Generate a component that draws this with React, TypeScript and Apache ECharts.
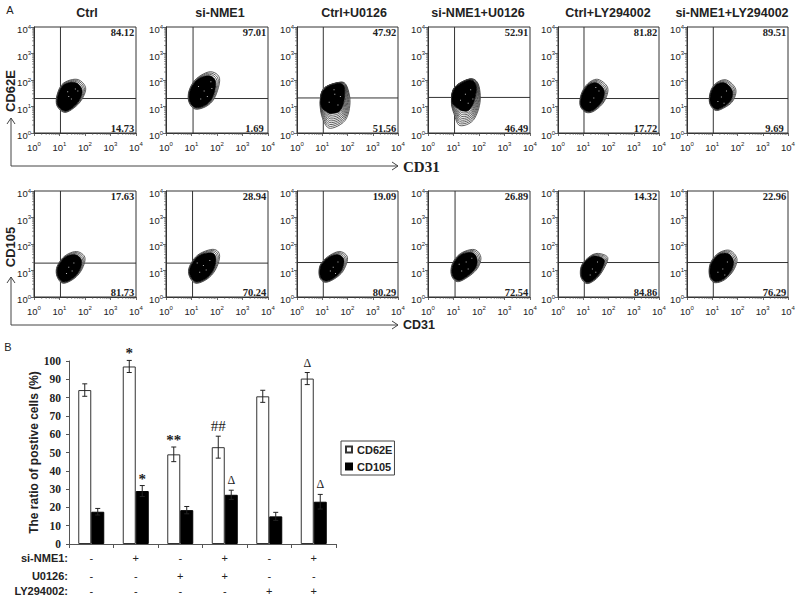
import React, { useEffect, useRef } from "react";
import * as echarts from "echarts";

const SANS = '"Liberation Sans", Arial, sans-serif';
const SERIF = '"Liberation Serif", "Times New Roman", serif';

// ---------- Panel A data ----------
const panelTitles = ["Ctrl", "si-NME1", "Ctrl+U0126", "si-NME1+U0126", "Ctrl+LY294002", "si-NME1+LY294002"];
const upperRow1 = ["84.12", "97.01", "47.92", "52.91", "81.82", "89.51"];
const lowerRow1 = ["14.73", "1.69", "51.56", "46.49", "17.72", "9.69"];
const upperRow2 = ["17.63", "28.94", "19.09", "26.89", "14.32", "22.96"];
const lowerRow2 = ["81.73", "70.24", "80.29", "72.54", "84.86", "76.29"];
const gatesRow1 = [[10.9, 20], [11.5, 20], [11, 21], [11, 22], [10.7, 20], [11, 20]];
const gatesRow2 = [[10.9, 19], [11, 19], [11, 20], [11.5, 20], [11, 20], [11, 20]];

// Outer contour of each population: top, upper right, right, lower right, bottom, lower left, left, upper left
const outlinesRow1 = [
  [[49, 106], [105, 53], [79, 20], [40, 9.4], [16, 6], [8, 10.6], [8, 27], [14, 75]],
  [[55, 205], [126, 115], [86, 24], [41, 10.6], [14, 8], [7.8, 15.5], [8.2, 42], [16, 115]],
  [[44, 81], [89, 65], [126, 14.5], [81, 3], [21, 1.5], [11, 3], [8.3, 11], [11, 46]],
  [[44, 110], [93, 71], [110, 14.5], [59, 3], [18, 1.9], [11, 4.6], [8.3, 14.5], [11, 53]],
  [[38, 106], [93, 51], [69, 16], [28, 6.9], [13, 6], [7.6, 10.6], [8.3, 29], [15, 72]],
  [[37, 100], [85, 45], [65, 16], [28, 8.7], [13, 7.2], [7.8, 14], [8.7, 39], [15, 79]],
];
const outlinesRow2 = [
  [[46, 52], [98, 32], [79, 12], [40, 5.2], [14, 3.3], [8, 6], [8, 14], [16, 35]],
  [[69, 63], [126, 39], [93, 12], [44, 5], [15, 3.3], [8.3, 6], [8.3, 14], [18, 39]],
  [[50, 52], [100, 31], [69, 10], [32, 5], [13, 3.6], [7.8, 5.8], [8.3, 16], [18, 35]],
  [[65, 62], [118, 32], [87, 12], [35, 5.5], [14, 3.8], [8.3, 6.7], [9, 18], [19, 44]],
  [[40, 44], [93, 31], [66, 12], [34, 5], [14, 3.2], [8, 5.8], [8.7, 16], [19, 35]],
  [[48, 58], [95, 28], [69, 10], [30, 4.4], [12, 3.5], [7.8, 6.2], [8.3, 18], [17, 44]],
];
// How deep the black core starts inside the outer contour, vertex by vertex
const ringDepthTight = [0.2, 0.24, 0.16, 0.1, 0.08, 0.06, 0.08, 0.1];
const ringDepthTail = [0.05, 0.15, 0.42, 0.55, 0.62, 0.45, 0.05, 0.05];
const ringDepthsRow1 = [ringDepthTight, ringDepthTight, ringDepthTail, ringDepthTail, ringDepthTight, ringDepthTight];
const ringCountsRow1 = [3, 3, 8, 8, 3, 3];
const ringCountRow2 = 3;

const specksRow1 = [
  [[22, 25], [40, 48], [28, 20], [50, 40], [20, 38]],
  [[30, 40], [55, 90], [22, 20], [40, 25], [60, 50], [18, 60]],
  [[30, 30], [50, 25], [18, 15], [40, 12], [28, 45]],
  [[28, 30], [45, 45], [18, 18], [36, 14], [55, 20]],
  [[25, 22], [40, 40], [18, 15], [30, 55]],
  [[22, 24], [35, 40], [16, 16], [28, 14]],
];
const specksRow2 = [
  [[22, 14], [35, 20], [18, 8], [30, 10]],
  [[28, 16], [50, 25], [20, 9], [36, 11], [16, 20]],
  [[26, 14], [20, 10], [40, 22], [32, 8]],
  [[30, 22], [50, 30], [20, 10], [36, 12], [16, 18]],
  [[22, 12], [35, 22], [18, 7], [30, 9]],
  [[25, 12], [38, 22], [16, 9], [30, 7]],
];
const decadeExponents = ["0", "1", "2", "3", "4"];
const minorTickValues = [2, 3, 4, 5, 6, 7, 8, 9, 20, 30, 40, 50, 60, 70, 80, 90, 200, 300, 400, 500, 600, 700, 800, 900, 2000, 3000, 4000, 5000, 6000, 7000, 8000, 9000];

// ---------- Panel B data ----------
const siNme1Signs = ["-", "+", "-", "+", "-", "+"];
const u0126Signs = ["-", "-", "+", "+", "-", "-"];
const lySigns = ["-", "-", "-", "-", "+", "+"];
const cd62eValues = [84.12, 97.01, 49, 52.91, 80.7, 90.4];
const cd62eErrors = [3.4, 3.3, 4, 6, 3.3, 3.3];
const cd62eMarks = ["", "*", "**", "##", "", "Δ"];
const cd105Values = [17.63, 28.94, 18.5, 26.89, 15.1, 23.1];
const cd105Errors = [1.8, 3, 2, 2.5, 2.2, 4];
const cd105Marks = ["", "*", "", "Δ", "", "Δ"];
const percentTicks = { min: 0, max: 100, interval: 10 };

// ---------- Layout ----------
const panelLefts = [34, 166, 297, 428, 558, 687];
const panelRights = [136, 268, 398, 530, 659, 788];
const rowTops = [27, 191];
const rowBottoms = [133, 297];
const titleCentres = [87, 220, 354, 478, 608, 732];

// Closed Catmull-Rom curve through the contour vertices (drawing helper only)
function smoothLoop(pts: number[][], steps = 6): number[][] {
  const out: number[][] = [];
  const n = pts.length;
  for (let i = 0; i < n; i++) {
    const p0 = pts[(i + n - 1) % n], p1 = pts[i], p2 = pts[(i + 1) % n], p3 = pts[(i + 2) % n];
    for (let s = 0; s < steps; s++) {
      const t = s / steps, t2 = t * t, t3 = t2 * t;
      const f = (a: number, b: number, c: number, d: number) =>
        0.5 * (2 * b + (c - a) * t + (2 * a - 5 * b + 4 * c - d) * t2 + (3 * b - a - 3 * c + d) * t3);
      out.push([f(p0[0], p1[0], p2[0], p3[0]), f(p0[1], p1[1], p2[1], p3[1])]);
    }
  }
  return out;
}

function panelRender(upper: string, lower: string, gate: number[], outline: number[][], depth: number[], rings: number, specks: number[][]) {
  return (params: any, api: any) => {
    const cs = params.coordSys;
    const right = cs.x + cs.width;
    const bottom = cs.y + cs.height;
    const kids: any[] = [];
    const stroke = { stroke: "#333", lineWidth: 1, fill: "none" };
    for (const v of minorTickValues) {
      const [px] = api.coord([v, 1]);
      const [, py] = api.coord([1, v]);
      kids.push({ type: "line", shape: { x1: px, y1: bottom, x2: px, y2: bottom + 2 }, style: { stroke: "#555", lineWidth: 0.6 } });
      kids.push({ type: "line", shape: { x1: cs.x, y1: py, x2: cs.x - 2, y2: py }, style: { stroke: "#555", lineWidth: 0.6 } });
    }
    const gx = api.coord([gate[0], 1])[0];
    const gy = api.coord([1, gate[1]])[1];
    kids.push({ type: "line", shape: { x1: gx, y1: cs.y, x2: gx, y2: bottom }, style: stroke });
    kids.push({ type: "line", shape: { x1: cs.x, y1: gy, x2: right, y2: gy }, style: stroke });

    const outer: number[][] = outline.map((p) => api.coord(p));
    const cx = outer.reduce((s, p) => s + p[0], 0) / outer.length;
    const cy = outer.reduce((s, p) => s + p[1], 0) / outer.length;
    const core = outer.map((p, i) => [p[0] + (cx - p[0]) * depth[i], p[1] + (cy - p[1]) * depth[i]]);
    for (let r = 0; r < rings; r++) {
      const t = r / rings;
      const pts = outer.map((p, i) => [p[0] + (core[i][0] - p[0]) * t, p[1] + (core[i][1] - p[1]) * t]);
      kids.push({
        type: "polygon",
        shape: { points: smoothLoop(pts) },
        style: { fill: "#fff", stroke: "#333", lineWidth: 0.8 },
      });
    }
    kids.push({ type: "polygon", shape: { points: smoothLoop(core) }, style: { fill: "#000", stroke: "#000", lineWidth: 0.8 } });
    for (const s of specks) {
      const p = api.coord(s);
      kids.push({ type: "rect", shape: { x: p[0], y: p[1], width: 1, height: 1 }, style: { fill: "#bbb" } });
    }
    const textStyle = { font: `bold 10.5px ${SERIF}`, fill: "#222", textAlign: "center", align: "center", textVerticalAlign: "middle", verticalAlign: "middle" };
    kids.push({ type: "text", style: { ...textStyle, text: upper, x: right - 13.5, y: cs.y + 5 } });
    kids.push({ type: "text", style: { ...textStyle, text: lower, x: right - 13.5, y: bottom - 5 } });
    return { type: "group", children: kids };
  };
}

function errorRender(values: number[], errors: number[], marks: string[], side: number) {
  return (params: any, api: any) => {
    const i = api.value(0);
    const band = api.size([1, 0])[0];
    const x = api.coord([i, 0])[0] + side * band * 0.146;
    const top = api.coord([0, values[i] + errors[i]])[1];
    const low = api.coord([0, values[i] - errors[i]])[1];
    const st = { stroke: "#222", lineWidth: 1 };
    const kids: any[] = [
      { type: "line", shape: { x1: x, y1: top, x2: x, y2: low }, style: st },
      { type: "line", shape: { x1: x - 2.5, y1: top, x2: x + 2.5, y2: top }, style: st },
      { type: "line", shape: { x1: x - 2.5, y1: low, x2: x + 2.5, y2: low }, style: st },
    ];
    const m = marks[i];
    if (m) {
      const star = m[0] === "*";
      kids.push({
        type: "text",
        style: {
          text: m, x, y: top - 10 + (star ? 3 : 0),
          font: `${star ? "bold " : ""}${m === "Δ" ? 12 : 15}px ${SERIF}`, fill: "#222",
          textAlign: "center", align: "center", textVerticalAlign: "middle", verticalAlign: "middle",
        },
      });
    }
    return { type: "group", children: kids };
  };
}

function buildOption(): any {
  const grid: any[] = [];
  const xAxis: any[] = [];
  const yAxis: any[] = [];
  const series: any[] = [];
  const expOf = (v: number) => decadeExponents[Math.round(Math.log10(v))];
  const rich = {
    b: { fontSize: 9.5, fontFamily: SANS, color: "#222", lineHeight: 12 },
    s: { fontSize: 6, fontFamily: SANS, color: "#222", lineHeight: 7, verticalAlign: "top" },
  };
  const logAxis = (gridIndex: number, margin: number, isY: boolean) => ({
    type: "log", logBase: 10, min: 1, max: 10000, gridIndex,
    axisLine: { show: true, onZero: false, lineStyle: { color: "#333", width: 1 } },
    axisTick: { show: true, length: 3, lineStyle: { color: "#444", width: 0.8 } },
    splitLine: { show: false },
    minorTick: { show: false },
    axisLabel: {
      formatter: (v: number) => `{b|10}{s|${expOf(v)}}`, rich, margin,
      showMinLabel: true, showMaxLabel: true, hideOverlap: false,
      padding: isY ? [5, 0, 0, 0] : 0,
    },
  });
  [0, 1].forEach((row) => {
    panelTitles.forEach((_, c) => {
      const idx = grid.length;
      grid.push({
        left: panelLefts[c], top: rowTops[row],
        width: panelRights[c] - panelLefts[c], height: rowBottoms[row] - rowTops[row],
        show: true, borderColor: "#333", borderWidth: 1, backgroundColor: "#fff",
      });
      xAxis.push(logAxis(idx, 8, false));
      yAxis.push(logAxis(idx, 3, true));
      series.push({
        type: "custom", coordinateSystem: "cartesian2d", xAxisIndex: idx, yAxisIndex: idx,
        data: [[10, 10]], silent: true,
        renderItem: panelRender(
          (row ? upperRow2 : upperRow1)[c], (row ? lowerRow2 : lowerRow1)[c],
          (row ? gatesRow2 : gatesRow1)[c], (row ? outlinesRow2 : outlinesRow1)[c],
          row ? ringDepthTight : ringDepthsRow1[c],
          row ? ringCountRow2 : ringCountsRow1[c], (row ? specksRow2 : specksRow1)[c]),
      });
    });
  });

  // Bar panel
  const b = grid.length;
  grid.push({ left: 69, top: 361, width: 267, height: 183 });
  const signAxis = (data: string[], offset: number, main: boolean) => ({
    type: "category", gridIndex: b, data, offset, position: "bottom",
    axisLine: main ? { show: true, onZero: false, lineStyle: { color: "#555" } } : { show: false },
    axisTick: main ? { show: true, length: 4, alignWithLabel: false, lineStyle: { color: "#555" } } : { show: false },
    axisLabel: { interval: 0, fontFamily: SANS, fontSize: 11, color: "#222", margin: 8 },
  });
  const xMain = xAxis.length;
  xAxis.push(signAxis(siNme1Signs, 0, true));
  xAxis.push(signAxis(u0126Signs, 18, false));
  xAxis.push(signAxis(lySigns, 33, false));
  yAxis.push({
    type: "value", gridIndex: b, ...percentTicks,
    name: "The ratio of postive cells (%)", nameLocation: "middle", nameGap: 26,
    nameTextStyle: { fontFamily: SANS, fontWeight: "bold", fontSize: 12, color: "#222" },
    axisLine: { show: true, lineStyle: { color: "#555" } },
    axisTick: { show: true, length: 3, lineStyle: { color: "#555" } },
    splitLine: { show: false },
    axisLabel: { fontFamily: SERIF, fontWeight: "bold", fontSize: 11.5, color: "#222", margin: 8 },
  });
  const barBase = { type: "bar", xAxisIndex: xMain, yAxisIndex: b, barWidth: 13, barGap: 0 };
  series.push({ ...barBase, name: "CD62E", data: cd62eValues, itemStyle: { color: "#fff", borderColor: "#333", borderWidth: 1 } });
  series.push({ ...barBase, name: "CD105", data: cd105Values, itemStyle: { color: "#000", borderColor: "#000", borderWidth: 1 } });
  const idxData = siNme1Signs.map((_, i) => [i, 0]);
  series.push({ type: "custom", coordinateSystem: "cartesian2d", xAxisIndex: xMain, yAxisIndex: b, data: idxData, z: 5, renderItem: errorRender(cd62eValues, cd62eErrors, cd62eMarks, -1) });
  series.push({ type: "custom", coordinateSystem: "cartesian2d", xAxisIndex: xMain, yAxisIndex: b, data: idxData, z: 5, renderItem: errorRender(cd105Values, cd105Errors, cd105Marks, 1) });

  const label = (text: string, x: number, y: number, font: string, extra: any = {}) => ({
    type: "text", x, y, silent: true,
    style: { text, font, fill: "#222", textAlign: "center", textVerticalAlign: "middle", ...extra },
  });
  const line = (points: number[][]) => ({
    type: "polyline", silent: true, shape: { points },
    style: { stroke: "#444", lineWidth: 1, fill: "none" },
  });
  const titleFont = `bold 12.5px ${SANS}`;
  const graphic: any[] = [
    ...panelTitles.map((t, i) => label(t, titleCentres[i], 13, titleFont)),
    label("A", 10, 10, `11px ${SANS}`),
    label("B", 8, 347, `11px ${SANS}`),
    { ...label("CD62E", 10, 91, `bold 13px ${SANS}`), rotation: Math.PI / 2 },
    { ...label("CD105", 10, 247, `bold 13px ${SANS}`), rotation: Math.PI / 2 },
    line([[11, 118], [11, 166], [398, 166]]),
    line([[7, 124], [11, 118], [15, 124]]),
    line([[392, 162], [398, 166], [392, 170]]),
    line([[11, 277], [11, 325], [398, 325]]),
    line([[7, 283], [11, 277], [15, 283]]),
    line([[392, 321], [398, 325], [392, 329]]),
    label("CD31", 403, 167, `bold 15px ${SERIF}`, { textAlign: "left" }),
    label("CD31", 403, 325, `bold 12.5px ${SANS}`, { textAlign: "left" }),
    label("si-NME1:", 68, 558, `bold 11px ${SANS}`, { textAlign: "right" }),
    label("U0126:", 68, 576, `bold 11px ${SANS}`, { textAlign: "right" }),
    label("LY294002:", 68, 591, `bold 11px ${SANS}`, { textAlign: "right" }),
  ];

  return {
    animation: false,
    backgroundColor: "#fff",
    textStyle: { fontFamily: SANS },
    grid, xAxis, yAxis, series, graphic,
    legend: {
      data: ["CD62E", "CD105"], orient: "vertical", left: 341, top: 441,
      selectedMode: false, borderColor: "#444", borderWidth: 1, padding: [3, 2, 3, 4],
      itemWidth: 6, itemHeight: 6, itemGap: 6, icon: "rect",
      textStyle: { fontFamily: SANS, fontWeight: "bold", fontSize: 11, color: "#222" },
    },
  };
}

export default function App() {
  const ref = useRef<HTMLDivElement>(null);
  useEffect(() => {
    const chart = echarts.init(ref.current!, undefined, { renderer: "svg" });
    chart.setOption(buildOption());
    return () => chart.dispose();
  }, []);
  return <div ref={ref} style={{ position: "fixed", left: 0, top: 0, width: 800, height: 599, background: "#fff" }} />;
}
